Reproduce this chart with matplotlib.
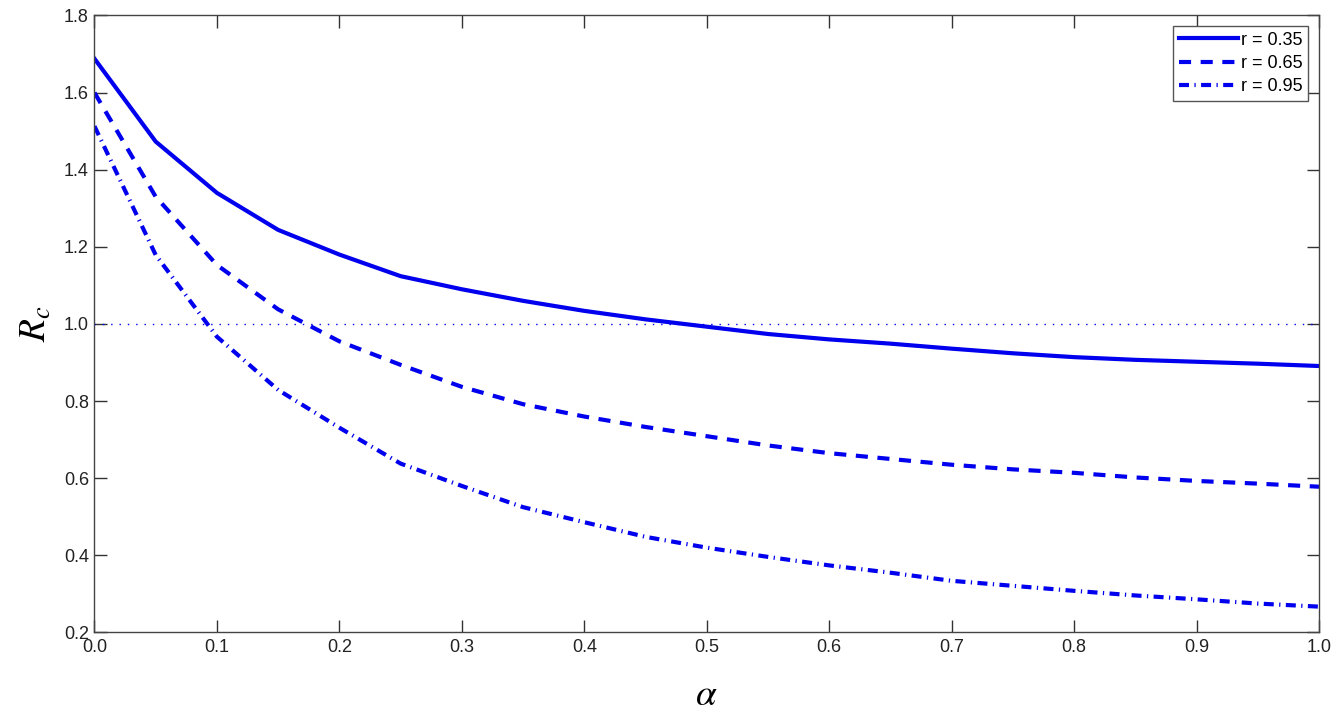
import matplotlib
matplotlib.use('Agg')
import matplotlib.pyplot as plt

# alpha grid and R_c values
alpha = [0.0, 0.05, 0.1, 0.15, 0.2, 0.25, 0.3, 0.35, 0.4, 0.45, 0.5,
         0.55, 0.6, 0.65, 0.7, 0.75, 0.8, 0.85, 0.9, 0.95, 1.0]
rc_035 = [1.688, 1.473, 1.340, 1.244, 1.180, 1.124, 1.090, 1.060, 1.034, 1.012, 0.993,
          0.974, 0.960, 0.949, 0.936, 0.924, 0.914, 0.907, 0.902, 0.897, 0.891]
rc_065 = [1.600, 1.330, 1.153, 1.038, 0.955, 0.894, 0.837, 0.792, 0.760, 0.733, 0.709,
          0.685, 0.665, 0.650, 0.635, 0.623, 0.614, 0.602, 0.593, 0.586, 0.578]
rc_095 = [1.513, 1.179, 0.967, 0.829, 0.731, 0.638, 0.580, 0.525, 0.486, 0.448, 0.420,
          0.396, 0.374, 0.355, 0.334, 0.321, 0.308, 0.296, 0.286, 0.275, 0.267]
labels = ['r = 0.35', 'r = 0.65', 'r = 0.95']

xticks = [0.0, 0.1, 0.2, 0.3, 0.4, 0.5, 0.6, 0.7, 0.8, 0.9, 1.0]
yticks = [0.2, 0.4, 0.6, 0.8, 1.0, 1.2, 1.4, 1.6, 1.8]

plt.rcParams['font.family'] = ['Liberation Sans', 'DejaVu Sans']
plt.rcParams['mathtext.fontset'] = 'stix'

fig = plt.figure(figsize=(13.36, 7.23), dpi=100)
ax = fig.add_axes([0.0707, 0.1252, 0.9166, 0.8534])

blue = '#0000ee'
ax.axhline(1.0, color=blue, lw=1, ls=(0, (1, 5)))
ax.plot(alpha, rc_035, color=blue, lw=3, ls='-', label=labels[0])
ax.plot(alpha, rc_065, color=blue, lw=3, ls=(0, (2.9, 2.3)), label=labels[1])
ax.plot(alpha, rc_095, color=blue, lw=3, ls=(0, (2.4, 1.3, 0.3, 1.3)), label=labels[2])

ax.set_xlim(0, 1)
ax.set_ylim(0.2, 1.8)
ax.set_xticks(xticks)
ax.set_yticks(yticks)
ax.set_xticklabels(['%.1f' % v for v in xticks])
ax.set_yticklabels(['%.1f' % v for v in yticks])
ax.tick_params(direction='in', length=9, width=1, colors='#333333',
               labelsize=13, labelcolor='#222222', top=True, right=True)
ax.tick_params(axis='x', pad=5)
ax.tick_params(axis='y', pad=4)
for s in ax.spines.values():
    s.set_color('#444444')
    s.set_linewidth(1)

ax.set_xlabel(r'$\alpha$', fontsize=27, labelpad=15)
ax.set_ylabel(r'$R_c$', fontsize=27, labelpad=7)

leg = ax.legend(loc='upper right', fontsize=13, handlelength=3.3, handletextpad=0.15,
                borderpad=0.3, labelspacing=0.35, fancybox=False, framealpha=1,
                borderaxespad=0.6)
leg.get_frame().set_edgecolor('#555555')
leg.get_frame().set_linewidth(1)

fig.savefig('out.png', dpi=100)
